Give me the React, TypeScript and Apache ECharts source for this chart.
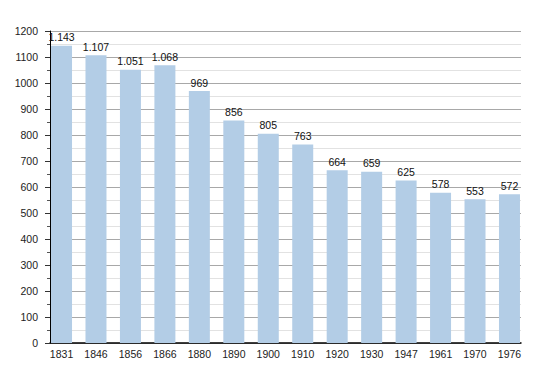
import React, { useEffect, useRef } from "react";
import * as echarts from "echarts";

const years = ["1831", "1846", "1856", "1866", "1880", "1890", "1900", "1910", "1920", "1930", "1947", "1961", "1970", "1976"];
const population = [1143, 1107, 1051, 1068, 969, 856, 805, 763, 664, 659, 625, 578, 553, 572];
const yMin = 0;
const yMax = 1200;
const yStep = 100;

const fmt = (v: number) => {
  const s = String(v);
  return s.length > 3 ? s.slice(0, s.length - 3) + "." + s.slice(s.length - 3) : s;
};

export default function App() {
  const ref = useRef<HTMLDivElement>(null);
  useEffect(() => {
    document.body.style.margin = "0";
    const chart = echarts.init(ref.current!, null, { renderer: "svg" });
    const font = "Liberation Sans, Arial, sans-serif";
    chart.setOption({
      animation: false,
      backgroundColor: "#ffffff",
      grid: [
        { left: 50, right: 29, top: 31, bottom: 30 },
        { left: 44.3, right: 23.3, top: 31, bottom: 30 },
      ],
      xAxis: [
        {
          type: "value",
          gridIndex: 0,
          min: 0,
          max: 1,
          axisLine: { show: true, lineStyle: { color: "#000000", width: 1.5 } },
          axisTick: { show: false },
          axisLabel: { show: false },
          splitLine: { show: false },
        },
        {
          type: "category",
          gridIndex: 1,
          data: years,
          axisLine: { show: false },
          axisTick: { show: false },
          axisLabel: { color: "#222222", fontSize: 10.5, fontFamily: font, margin: 5, interval: 0 },
          splitLine: { show: false },
        },
      ],
      yAxis: [
        {
          type: "value",
          gridIndex: 0,
          min: yMin,
          max: yMax,
          interval: yStep,
          axisLine: { show: true, lineStyle: { color: "#000000", width: 1 } },
          axisTick: { show: true, length: 5, lineStyle: { color: "#333333" } },
          minorTick: { show: true, splitNumber: 2, length: 3, lineStyle: { color: "#555555" } },
          axisLabel: {
            color: "#222222",
            fontSize: 10.5,
            fontFamily: font,
            margin: 12,
            formatter: (v: number) => String(v),
          },
          splitLine: { show: true, lineStyle: { color: "#a8a8a8", width: 1 } },
          minorSplitLine: { show: true, lineStyle: { color: "#e2e2e2", width: 1 } },
        },
        {
          type: "value",
          gridIndex: 1,
          min: yMin,
          max: yMax,
          show: false,
          splitLine: { show: false },
        },
      ],
      series: [
        {
          type: "bar",
          xAxisIndex: 1,
          yAxisIndex: 1,
          data: population,
          barWidth: 21,
          itemStyle: { color: "#b3cde6" },
          label: {
            show: true,
            position: "top",
            distance: 3,
            color: "#111111",
            fontSize: 10.5,
            fontFamily: font,
            formatter: (p: any) => fmt(p.value),
          },
        },
      ],
    });
    return () => chart.dispose();
  }, []);
  return <div ref={ref} style={{ width: 550, height: 373, position: "absolute", left: 0, top: 0 }} />;
}
